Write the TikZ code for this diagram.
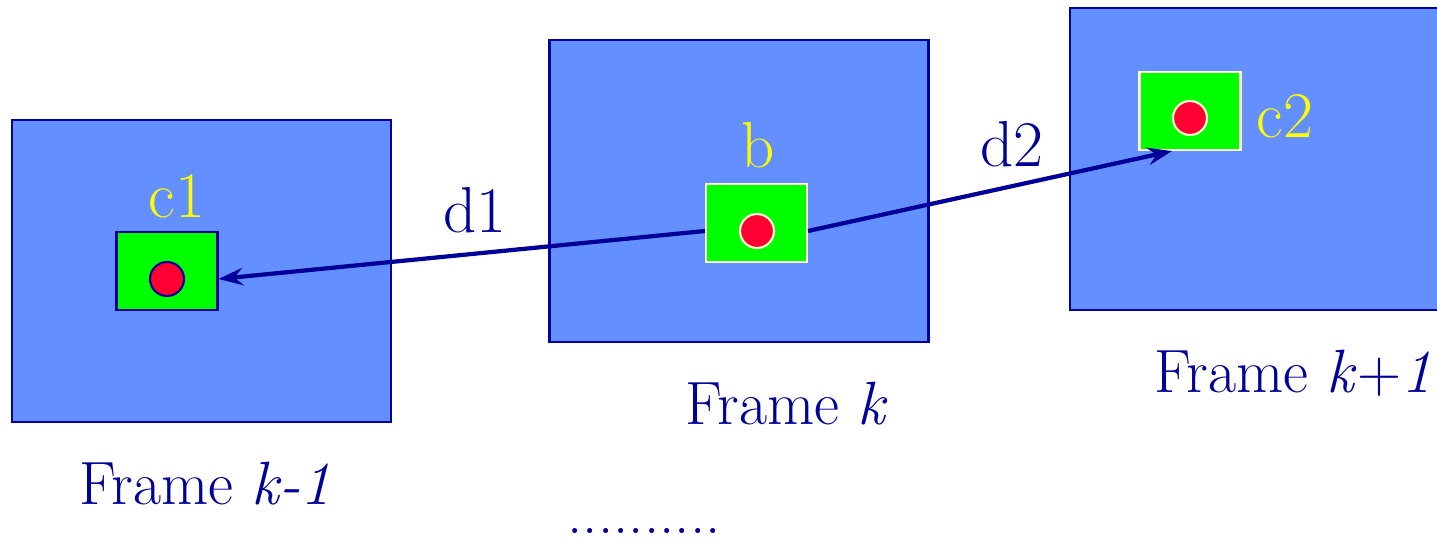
\documentclass[tikz,border=0pt]{standalone}
\usepackage{fontspec}
\usepackage{tikz}
\usetikzlibrary{arrows.meta, positioning, calc}
\definecolor{framefill}{RGB}{99,143,255}
\definecolor{framedark}{RGB}{0,0,160}
\definecolor{mynavy}{RGB}{0,0,153}
\definecolor{mygreen}{RGB}{0,255,0}
\definecolor{myred}{RGB}{255,0,51}
\definecolor{myyellow}{RGB}{255,255,0}
\definecolor{mypale}{RGB}{255,255,204}
\tikzset{
  frame/.style={rectangle, draw=framedark, fill=framefill,
    minimum width=3.79cm, minimum height=3.02cm, inner sep=0pt, line width=0.6pt},
  blockbox/.style={rectangle, fill=mygreen,
    minimum width=1.01cm, minimum height=0.78cm, inner sep=0pt, line width=0.6pt},
  pixdot/.style={circle, fill=myred, minimum size=0.34cm, inner sep=0pt, line width=0.6pt},
  lbl/.style={anchor=base west, inner sep=0pt, font=\rmfamily\fontsize{17.4}{20}\selectfont},
  tag/.style={anchor=base west, inner sep=0pt, font=\rmfamily\fontsize{18.5}{21}\selectfont},
  arrow/.style={-{Stealth[length=7pt, width=5pt, inset=2.5pt]}, line width=1.2pt, color=mynavy}
}
\begin{document}
\begin{tikzpicture}
  \useasboundingbox (0,0) rectangle (14.37,5.43);

  % Frames
  \node[frame] (fkm1) at (2.015, 2.72) {};
  \node[frame] (fk) at (7.39, 3.52) {};
  \node[frame] (fkp1) at (12.595, 3.84) {};

  % Blocks and their pixels
  \node[blockbox, draw=mynavy] (c1) at (1.67, 2.72) {};
  \node[pixdot, draw=mynavy] (c1dot) at (1.67, 2.64) {};
  \node[blockbox, draw=mypale] (b) at (7.565, 3.20) {};
  \node[pixdot, draw=mypale] (bdot) at (7.57, 3.12) {};
  \node[blockbox, draw=mypale] (c2) at (11.90, 4.32) {};
  \node[pixdot, draw=mypale] (c2dot) at (11.90, 4.25) {};

  % Motion vectors
  \coordinate (d2end) at ([xshift=-0.18cm]c2.south);
  \draw[arrow] (b.west |- bdot) -- (c1.east |- c1dot);
  \draw[arrow] (b.east |- bdot) -- (d2end);

  % Labels
  \node[tag, text=myyellow] (c1lbl) at (1.48, 3.25) {c1};
  \node[tag, text=myyellow] (blbl) at (7.41, 3.75) {b};
  \node[tag, text=myyellow] (c2lbl) at (12.56, 4.05) {c2};
  \node[tag, text=mynavy] (d1lbl) at (4.43, 3.10) {d1};
  \node[tag, text=mynavy] (d2lbl) at (9.80, 3.76) {d2};
  \node[lbl, text=mynavy] (fkm1lbl) at (0.79, 0.38) {Frame \textit{k-1}};
  \node[lbl, text=mynavy] (fklbl) at (6.85, 1.18) {Frame \textit{k}};
  \node[lbl, text=mynavy] (fkp1lbl) at (11.54, 1.50) {Frame \textit{k}+\textit{1}};
  \node[lbl, text=mynavy] (more) at (5.67, 0.09) {..........};
\end{tikzpicture}
\end{document}
